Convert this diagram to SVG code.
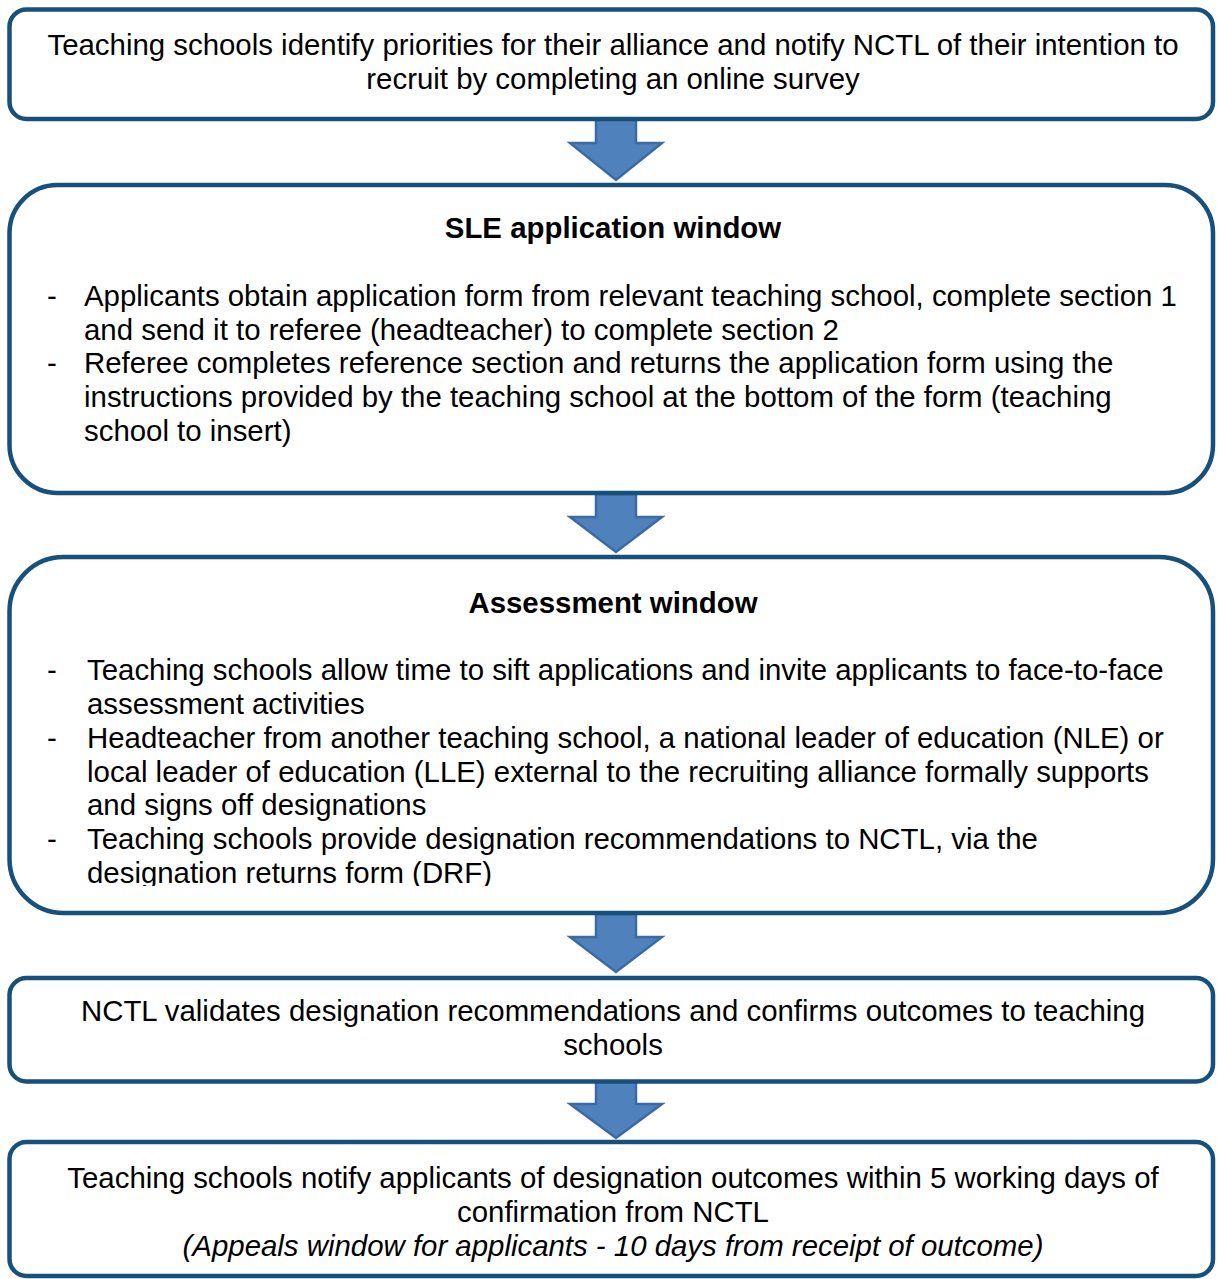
<svg xmlns="http://www.w3.org/2000/svg" width="1217" height="1279" viewBox="0 0 1217 1279">
<style>
.box{fill:#fff;stroke:#17507a;stroke-width:4.5}
.arr{fill:#4f81bd;stroke:#3c6aa3;stroke-width:2.5;stroke-linejoin:miter}
text{font-family:"Liberation Sans",Arial,sans-serif;font-size:29.4px;fill:#000}
.c{text-anchor:middle}
.b{font-weight:bold}
.i{font-style:italic}
</style>
<defs>
<clipPath id="clip3"><rect x="0" y="550" width="1217" height="336"/></clipPath>
</defs>
<g id="connectors">
<path class="arr" d="M596,119 L636,119 L636,143 L662,143 L616,180 L570,143 L596,143 Z"/>
<path class="arr" d="M596,494 L636,494 L636,517 L662,517 L616,552 L570,517 L596,517 Z"/>
<path class="arr" d="M596,914 L636,914 L636,937 L662,937 L616,972 L570,937 L596,937 Z"/>
<path class="arr" d="M596,1082 L636,1082 L636,1104 L662,1104 L616,1138 L570,1104 L596,1104 Z"/>
</g>
<g id="node1">
<rect class="box" x="9.5" y="9.5" width="1203.5" height="109.5" rx="17"/>
<text class="c" x="613" y="55">Teaching schools identify priorities for their alliance and notify NCTL of their intention to</text>
<text class="c" x="613" y="89">recruit by completing an online survey</text>
</g>
<g id="node2">
<rect class="box" x="9.5" y="185" width="1203.5" height="308" rx="48"/>
<text class="c b" x="613" y="238">SLE application window</text>
<text x="47" y="306">-</text>
<text x="84" y="306">Applicants obtain application form from relevant teaching school, complete section 1</text>
<text x="84" y="340">and send it to referee (headteacher) to complete section 2</text>
<text x="47" y="373">-</text>
<text x="84" y="373">Referee completes reference section and returns the application form using the</text>
<text x="84" y="407">instructions provided by the teaching school at the bottom of the form (teaching</text>
<text x="84" y="441">school to insert)</text>
</g>
<g id="node3">
<rect class="box" x="9.5" y="557" width="1203.5" height="356" rx="54"/>
<text class="c b" x="613" y="613">Assessment window</text>
<text x="47" y="680">-</text>
<text x="87" y="680">Teaching schools allow time to sift applications and invite applicants to face-to-face</text>
<text x="87" y="714">assessment activities</text>
<text x="47" y="748">-</text>
<text x="87" y="748">Headteacher from another teaching school, a national leader of education (NLE) or</text>
<text x="87" y="782">local leader of education (LLE) external to the recruiting alliance formally supports</text>
<text x="87" y="815">and signs off designations</text>
<text x="47" y="849">-</text>
<text x="87" y="849">Teaching schools provide designation recommendations to NCTL, via the</text>
<text x="87" y="883" clip-path="url(#clip3)">designation returns form (DRF)</text>
</g>
<g id="node4">
<rect class="box" x="9.5" y="978" width="1203.5" height="103.5" rx="17"/>
<text class="c" x="613" y="1021">NCTL validates designation recommendations and confirms outcomes to teaching</text>
<text class="c" x="613" y="1055">schools</text>
</g>
<g id="node5">
<rect class="box" x="9.5" y="1142" width="1203.5" height="134" rx="17"/>
<text class="c" x="613" y="1188">Teaching schools notify applicants of designation outcomes within 5 working days of</text>
<text class="c" x="613" y="1222">confirmation from NCTL</text>
<text class="c i" x="613" y="1256">(Appeals window for applicants - 10 days from receipt of outcome)</text>
</g>
</svg>
